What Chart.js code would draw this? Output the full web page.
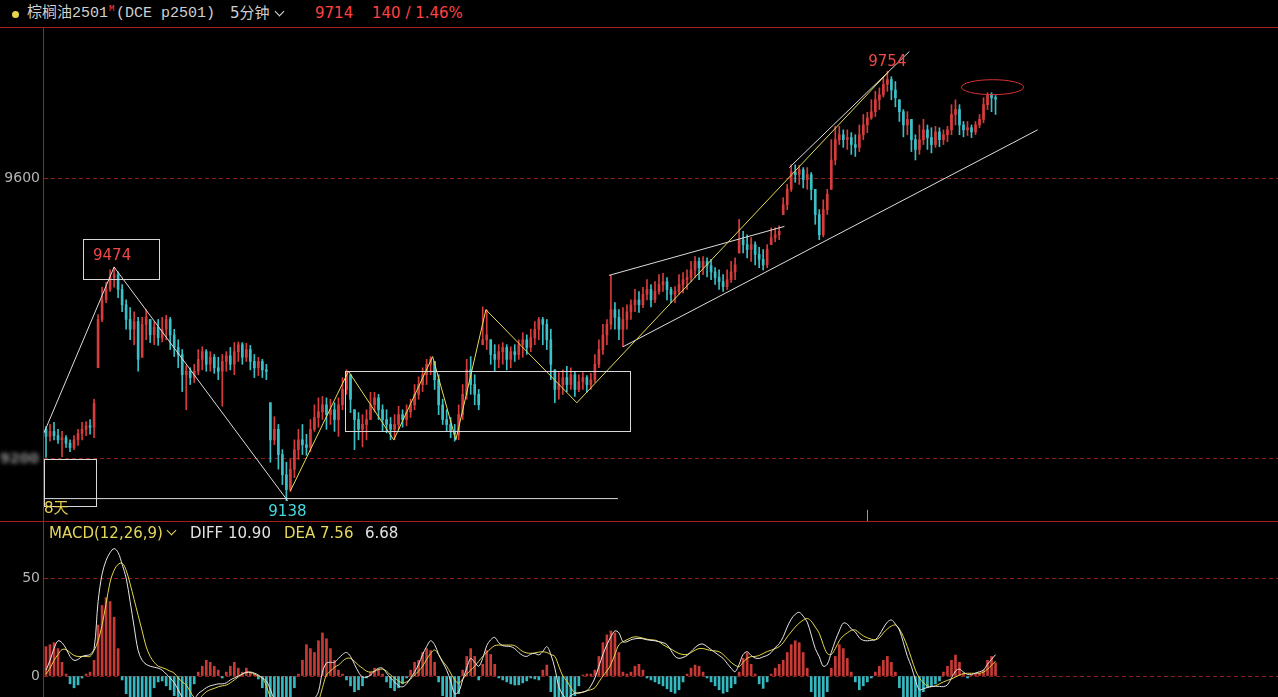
<!DOCTYPE html>
<html>
<head>
<meta charset="utf-8">
<title>棕榈油2501 5分钟</title>
<script src="https://cdn.jsdelivr.net/npm/chart.js@4.4.0/dist/chart.umd.min.js"></script>
<style>
  html, body { margin: 0; padding: 0; background: #000; }
  body { width: 1278px; height: 697px; position: relative; overflow: hidden; font-family: "DejaVu Sans", sans-serif; }
  canvas { position: absolute; left: 0; }
  #priceChart { top: 27px; }
  #macdChart { top: 521px; }
  .txt { position: absolute; white-space: nowrap; font-size: 15px; }
  .head { top: 0; line-height: 27px; }
  .mono { font-family: "Liberation Mono", "Noto Sans CJK SC", monospace; }
  .rule { position: absolute; background: #a61e1e; }
  .chev { position: absolute; width: 6px; height: 6px; border-right: 1.5px solid #ddd; border-bottom: 1.5px solid #ddd; transform: rotate(45deg); }
</style>
</head>
<body>
<canvas id="priceChart" width="1278" height="494"></canvas>
<canvas id="macdChart" width="1278" height="176"></canvas>

<!-- panel frame -->
<div class="rule" style="left:0; top:27px; width:1278px; height:1px;"></div>
<div class="rule" style="left:0; top:521px; width:1278px; height:1px;"></div>
<div class="rule" style="left:43px; top:27px; width:1px; height:670px;"></div>

<!-- header -->
<div style="position:absolute; left:12px; top:11px; width:7px; height:7px; border-radius:50%; background:#e6d44e;"></div>
<div class="txt head mono" style="left:27px; color:#cfcfcf;">棕榈油2501</div>
<div class="txt mono" style="left:109px; top:4px; font-size:9px; line-height:10px; color:#ff4a4a;">M</div>
<div class="txt head mono" style="left:116px; color:#cfcfcf;">(DCE p2501)</div>
<div class="txt head" style="left:230px; color:#cfcfcf; font-family:'DejaVu Sans','Noto Sans CJK SC';">5分钟</div>
<div class="chev" style="left:276px; top:8px;"></div>
<div class="txt head" style="left:315px; color:#ff4242;">9714</div>
<div class="txt head" style="left:372px; color:#ff4242;">140 / 1.46%</div>

<!-- MACD title row -->
<div class="txt" style="left:49px; top:521px; line-height:24px; color:#e6d75a;">MACD(12,26,9)</div>
<div class="chev" style="left:168px; top:527px; border-color:#e6d75a;"></div>
<div class="txt" style="left:190px; top:521px; line-height:24px; color:#e2e2e2;">DIFF 10.90</div>
<div class="txt" style="left:284px; top:521px; line-height:24px; color:#e6d75a;">DEA 7.56</div>
<div class="txt" style="left:365px; top:521px; line-height:24px; color:#e2e2e2;">6.68</div>

<script>
// Palm oil 2501, 5 minute bars

const closes = [
  9232, 9239, 9233, 9227, 9230, 9222, 9216, 9227, 9236, 9242,
  9247, 9245, 9279, 9399, 9427, 9442, 9459, 9463, 9442, 9420,
  9399, 9385, 9396, 9342, 9392, 9402, 9377, 9388, 9373, 9385,
  9399, 9377, 9359, 9349, 9320, 9325, 9316, 9325, 9342, 9353,
  9335, 9345, 9330, 9325, 9339, 9347, 9335, 9353, 9363, 9345,
  9356, 9339, 9330, 9339, 9327, 9325, 9227, 9242, 9206, 9177,
  9156, 9185, 9213, 9227, 9220, 9216, 9242, 9259, 9267, 9277,
  9263, 9270, 9256, 9277, 9299, 9320, 9285, 9256, 9242, 9249,
  9256, 9277, 9287, 9270, 9256, 9249, 9242, 9249, 9263, 9256,
  9267, 9277, 9292, 9306, 9320, 9335, 9342, 9313, 9277, 9256,
  9249, 9239, 9235, 9263, 9292, 9327, 9306, 9292, 9277, 9370,
  9377, 9349, 9342, 9353, 9359, 9342, 9353, 9349, 9363, 9370,
  9359, 9373, 9385, 9399, 9392, 9370, 9335, 9299, 9306, 9316,
  9306, 9320, 9299, 9310, 9316, 9306, 9313, 9335, 9356, 9377,
  9392, 9413, 9402, 9385, 9399, 9410, 9420, 9427, 9420, 9435,
  9442, 9427, 9439, 9449, 9453, 9442, 9435, 9439, 9449, 9456,
  9459, 9470, 9482, 9473, 9482, 9476, 9467, 9459, 9453, 9446,
  9456, 9467, 9477, 9513, 9506, 9499, 9506, 9492, 9485, 9477,
  9499, 9516, 9520, 9525, 9563, 9585, 9610, 9606, 9613, 9599,
  9606, 9585, 9549, 9520, 9556, 9578, 9627, 9656, 9663, 9656,
  9659, 9649, 9645, 9663, 9677, 9687, 9696, 9713, 9720, 9735,
  9742, 9727, 9716, 9696, 9677, 9685, 9656, 9642, 9656, 9670,
  9659, 9649, 9667, 9656, 9663, 9670, 9692, 9699, 9677, 9670,
  9673, 9667, 9677, 9685, 9706, 9720, 9716, 9714
];

const highs = [
  9246, 9249, 9252, 9242, 9239, 9233, 9227, 9233, 9242, 9252,
  9253, 9256, 9285, 9406, 9445, 9452, 9470, 9474, 9467, 9449,
  9427, 9416, 9410, 9402, 9402, 9413, 9399, 9396, 9399, 9402,
  9405, 9402, 9385, 9370, 9356, 9333, 9330, 9335, 9356, 9360,
  9356, 9353, 9349, 9345, 9349, 9353, 9359, 9366, 9367, 9366,
  9365, 9362, 9349, 9345, 9342, 9335, 9280, 9260, 9249, 9213,
  9195, 9199, 9227, 9242, 9249, 9235, 9256, 9277, 9287, 9289,
  9287, 9285, 9280, 9287, 9316, 9327, 9320, 9270, 9266, 9263,
  9270, 9295, 9295, 9292, 9277, 9270, 9259, 9263, 9275, 9270,
  9277, 9285, 9306, 9317, 9330, 9342, 9346, 9339, 9320, 9285,
  9270, 9259, 9249, 9277, 9306, 9342, 9346, 9320, 9299, 9417,
  9413, 9370, 9363, 9363, 9366, 9363, 9360, 9363, 9370, 9380,
  9377, 9385, 9396, 9402, 9402, 9399, 9385, 9327, 9323, 9327,
  9332, 9330, 9325, 9320, 9323, 9319, 9322, 9349, 9370, 9392,
  9399, 9462, 9423, 9413, 9416, 9420, 9427, 9442, 9439, 9445,
  9456, 9449, 9453, 9463, 9465, 9459, 9445, 9446, 9463, 9466,
  9470, 9482, 9489, 9487, 9489, 9487, 9485, 9473, 9470, 9463,
  9470, 9482, 9487, 9542, 9525, 9520, 9516, 9510, 9502, 9499,
  9506, 9530, 9530, 9533, 9573, 9592, 9620, 9620, 9619, 9616,
  9616, 9609, 9585, 9556, 9570, 9585, 9656, 9675, 9675, 9670,
  9670, 9666, 9663, 9677, 9692, 9695, 9713, 9725, 9730, 9745,
  9754, 9746, 9739, 9713, 9699, 9696, 9685, 9663, 9677, 9685,
  9677, 9673, 9675, 9673, 9670, 9675, 9706, 9713, 9706, 9682,
  9682, 9677, 9682, 9692, 9716, 9723, 9723, 9719
];

const lows = [
  9202, 9225, 9227, 9222, 9203, 9216, 9210, 9213, 9219, 9227,
  9233, 9235, 9230, 9330, 9396, 9423, 9439, 9445, 9430, 9410,
  9385, 9370, 9363, 9325, 9345, 9370, 9366, 9363, 9362, 9367,
  9370, 9356, 9346, 9330, 9296, 9270, 9306, 9309, 9320, 9327,
  9325, 9325, 9322, 9313, 9275, 9325, 9327, 9320, 9339, 9335,
  9339, 9327, 9316, 9319, 9316, 9313, 9195, 9220, 9185, 9163,
  9140, 9153, 9173, 9199, 9206, 9205, 9210, 9239, 9245, 9256,
  9242, 9249, 9239, 9232, 9270, 9292, 9266, 9213, 9227, 9217,
  9227, 9256, 9267, 9256, 9239, 9237, 9227, 9227, 9242, 9245,
  9247, 9259, 9270, 9285, 9296, 9306, 9320, 9299, 9263, 9249,
  9239, 9230, 9225, 9227, 9256, 9285, 9292, 9277, 9270, 9363,
  9356, 9335, 9325, 9330, 9335, 9327, 9330, 9339, 9342, 9345,
  9349, 9353, 9363, 9370, 9363, 9356, 9313, 9280, 9285, 9292,
  9296, 9299, 9289, 9296, 9299, 9295, 9299, 9309, 9330, 9349,
  9363, 9385, 9385, 9370, 9360, 9385, 9399, 9410, 9409, 9416,
  9427, 9417, 9423, 9435, 9439, 9427, 9423, 9423, 9435, 9437,
  9442, 9453, 9459, 9456, 9463, 9460, 9456, 9449, 9442, 9439,
  9442, 9452, 9456, 9494, 9494, 9487, 9482, 9477, 9473, 9470,
  9473, 9506, 9510, 9513, 9549, 9556, 9582, 9595, 9592, 9587,
  9585, 9570, 9535, 9513, 9517, 9549, 9585, 9620, 9649, 9645,
  9642, 9635, 9632, 9639, 9656, 9666, 9685, 9689, 9699, 9717,
  9725, 9713, 9703, 9682, 9660, 9663, 9639, 9627, 9635, 9649,
  9642, 9637, 9645, 9646, 9649, 9653, 9663, 9677, 9663, 9660,
  9662, 9659, 9663, 9673, 9680, 9699, 9696, 9692
];

// open of the very first bar; later opens follow the previous close
const firstOpen = 9242;

// MACD(12,26,9)
const diffValues = [
  3, 8, 14, 18, 17, 14, 10, 8, 8.5, 10,
  10.5, 11, 14, 38, 52, 59, 63, 65, 63, 57,
  50, 38, 25, 13, 8, 6, 5, 4.5, 4, 3,
  1, -1, -3.5, -7, -11, -14, -14, -12, -9, -7.5,
  -6, -5, -4.5, -4, -4, -3.5, -2, -1, 0, 1,
  1.8, 2, 1.5, 0.5, -1, -2.5, -7, -12, -16, -20,
  -24, -25, -24, -21, -18, -15, -13, -11.5, -8, 2,
  6.6, 7, 7, 9, 11, 12, 10, 6, 2, -0.5,
  -0.5, 0.5, 2.5, 4, 4, 1.5, -1, -3, -5, -5.5,
  -4, -1, 2, 6, 11, 15, 18, 16, 11, 7,
  3, -2.5, -9, -8, -2, 4, 9, 7, 5, 9,
  15.5, 18.5, 19.7, 17, 15.5, 15.2, 15, 14, 12, 10.5,
  10, 11.2, 11.5, 10.8, 12.5, 15, 11, 4, -5.4, -9.5,
  -11.5, -10, -8.8, -8.5, -8.2, -7.5, -5, -1, 5, 11,
  16, 20, 23, 22, 17.5, 17.5, 18.5, 19, 19.2, 19,
  18.5, 18.2, 18, 17.5, 17, 16, 13, 10, 9, 9.5,
  10.5, 12.5, 14.5, 16, 16.3, 15, 13.5, 12, 10.5, 9,
  6.5, 4, 2.2, 6, 11, 12.4, 10.5, 9.2, 9, 9.8,
  10.5, 12, 14.5, 16.5, 20, 25, 29, 31.5, 32.5, 30.5,
  27.5, 21, 14, 9.9, 5, 6, 12, 18, 23, 27,
  26.5, 24, 22.5, 19.5, 18.2, 18, 18.2, 18.5, 21, 24.5,
  27.5, 28.6, 26.5, 23.5, 17, 10, 4.8, -2, -7, -6.5,
  -5.8, -5.4, -5.2, -5.3, -5.4, -4.5, -1, 2.5, 3.5, 2,
  0.8, 0.8, 1.5, 2.2, 3, 6, 8.5, 10.9
];

const deaValues = [
  1, 4, 8, 11, 13.5, 13.5, 12, 10.5, 10, 10,
  10, 10, 13, 18, 26, 37, 48, 54, 57, 57.6,
  54, 47, 39, 31, 23, 15, 10, 7, 5, 4.3,
  3.5, 2.5, 1.5, -1, -3, -4.6, -8, -11, -12, -10,
  -8, -7, -6.3, -5.5, -5, -4.6, -3.5, -2, -0.5, 1,
  2, 1.8, 1, 0, -1, -5, -11, -14, -16, -18,
  -21, -22, -23, -23, -22.5, -21, -19, -17, -13, -6,
  0.5, 2.5, 4.5, 5.6, 7.5, 9, 9, 7.5, 5.5, 4,
  2.5, 2, 2.5, 3.3, 3.5, 2.5, 0.5, -1, -2.5, -3.5,
  -3, -1.5, 0.5, 2.5, 5, 8.5, 11.5, 13.3, 11, 7.5,
  5, 1.5, -2, -3.7, -1.5, 1, 3, 5, 7.5, 10,
  12, 14, 15.5, 15.8, 15.8, 15.8, 15.8, 15.5, 14, 12.5,
  11.8, 11.6, 11.8, 12.2, 12.4, 12, 11, 10, 5, 0,
  -2.5, -6, -8.5, -8.8, -8.2, -7.5, -7, -6, -3, 0,
  2.5, 6, 11, 16, 17.5, 18.5, 19.5, 20, 19.8, 19.3,
  18.8, 18.5, 18.3, 17.5, 16, 14.8, 13.8, 12.5, 11.5, 11,
  11, 12, 13.2, 14, 14, 13.5, 13, 12.8, 12.4, 11,
  9, 7, 5.5, 4.8, 7, 9, 9.9, 10, 10.5, 11.5,
  12.5, 13.2, 14, 15, 17, 20, 22.5, 25, 27, 28.5,
  29.4, 28, 25, 21.8, 16, 11.5, 11, 14, 18, 20.5,
  22, 23.3, 23.5, 22, 20.5, 19.5, 18.8, 18.5, 19.5, 22,
  24, 25.5, 26, 24, 20, 15, 9, 3, -1, -3.5,
  -5, -5.4, -5, -4, -3, -2.2, -1.5, -0.5, 0.5, 1.2,
  1.4, 1.4, 1.4, 1.4, 2, 3.5, 5.5, 7.56
];

const macdBars = [
  15, 16, 17, 14, 7, 1, -4, -6, -4.5, -1,
  1, 2, 8, 26, 36, 40, 38, 30, 14, -2,
  -9, -18, -22, -24, -22, -18, -12, -6, -3, -2.5,
  -5, -7, -10, -12, -16, -18, -13, -4, 2, 5,
  8, 7, 5, 3, -1, 2, 5, 7, 4, 2,
  4, 2, 1, -1.5, -6, -12, -18, -18, -16, -14,
  -14, -11, -6, 1, 8, 16, 14, 12, 18, 22,
  19, 14, 8, 3, 1, -2, -5, -8, -7, -5,
  -1, 2, 4, 3.5, 1, -3, -6, -7.5, -6, -4,
  -1, 3, 7, 8, 12, 14, 13, 7, -3, -10,
  -14, -16, -15, -9, 3, 10, 14, 10, -2, 6,
  13, 11, 6, -1, -2, -3, -4, -4.6, -4.5, -3.5,
  -2.5, -1, -1.5, -2, 3, 5.6, -8, -14, -18, -18,
  -17, -14, -10, -5, 0.5, 1, 1, 3, 10, 17,
  21, 23, 22, 12, 2, 1, 2, 5, 6, 3,
  -1, -2, -3, -4, -5, -6.5, -8, -8.8, -7, -3,
  1, 4, 5.6, 5, 2, -1, -3, -5, -7, -8.8,
  -8, -6, -4, 2, 9, 11.6, 6, 1, -4, -6.3,
  -3, 1, 4, 6, 8, 12, 16, 18, 17, 12,
  4, -8, -16, -20, -18, -8, 4, 10, 16, 14,
  9, 2, -3, -7, -5, -3, -1, 2, 5, 8,
  10, 7, 2, -6, -14, -18, -18, -14, -12, -8,
  -6, -5.4, -4, -2.5, 2, 5, 8, 10.7, 7, 1.5,
  -1, 0.5, 1, 1.5, 3, 8, 10, 6.68
];

// axis ticks
const priceTicks = [9200, 9600];
const macdTicks = [0, 50];

// bar slots across the panel (the right part stays empty)
const slotCount = 308;
const slotLabels = Array.from({ length: slotCount }, (_, i) => String(i + 1));

// drawings on the price panel, as [bar index, price]
const whiteLines = [
  [[-0.5, 9237], [17, 9474], [60.3, 9140]],
  [[-0.5, 9143], [142.75, 9143]],
  [[140.5, 9462], [184.3, 9532]],
  [[144, 9360], [247.5, 9670]],
  [[185.5, 9616], [215.5, 9782]]
];
const yellowLines = [
  [[61, 9154], [75.5, 9325], [86.8, 9227], [96.5, 9346], [102.3, 9227],
   [109.8, 9413], [132.5, 9280], [210.3, 9753]]
];
// [left index, top price, right index, bottom price]
const markBoxes = [
  [9.25, 9514, 28.25, 9457],
  [-0.5, 9200, 12.5, 9133],
  [74.75, 9325, 145.75, 9239]
];
// [center index, center price, index radius, price radius]
const markEllipse = [236.25, 9731, 7.75, 10.7];
const markTexts = [
  { text: '9474', at: [16.5, 9489], color: '#f04848', align: 'center' },
  { text: '9138', at: [60.25, 9124], color: '#48d8e0', align: 'center' },
  { text: '9754', at: [210, 9767], color: '#f04848', align: 'center' },
  { text: '8天', at: [-0.5, 9128], color: '#e6d24e', align: 'left' }
];
const dayMarkIndex = 205;

const UP = '#d63c3c';
const DOWN = '#3cc0c8';
const FLAT = '#b4b4b4';
const GRID = '#8c1e1e';

// opens follow the previous close, kept inside the bar's range
const opens = closes.map((c, i) => {
  const prev = i === 0 ? firstOpen : closes[i - 1];
  return Math.min(Math.max(prev, lows[i]), highs[i]);
});
const candleColors = closes.map((c, i) => c > opens[i] ? UP : (c < opens[i] ? DOWN : FLAT));

Chart.defaults.font.family = 'DejaVu Sans';

/**
 * Left value axis: fixed width, only the given ticks, dashed red grid
 */
function valueAxis(min, max, ticks, hidden) {
    return {
        position: 'left',
        min: min,
        max: max,
        afterBuildTicks: (axis) => { axis.ticks = ticks.map(v => ({ value: v })); },
        afterFit: (axis) => {
            axis.width = 44;
            axis.paddingTop = 0;
            axis.paddingBottom = 0;
        },
        ticks: {
            color: '#b4b4b4',
            font: { size: 14 },
            padding: 4,
            callback: (v) => (hidden.includes(v) ? '' : String(v))
        },
        grid: { color: GRID, drawTicks: false, lineWidth: 1 },
        border: { display: false, dash: [4, 3] }
    };
}

const slotAxis = {
    type: 'category',
    display: false,
    offset: true,
    grid: { display: false }
};

/**
 * Draws the trend lines, boxes and notes on top of the candles
 */
const drawingsPlugin = {
    id: 'drawings',
    afterDatasetsDraw(chart) {
        const { ctx, scales } = chart;
        const px = (i) => scales.x.getPixelForValue(i);
        const py = (v) => scales.y.getPixelForValue(v);

        ctx.save();
        ctx.lineWidth = 1;

        const polyline = (pts, color) => {
            ctx.strokeStyle = color;
            ctx.beginPath();
            pts.forEach((p, k) => {
                if (k === 0) ctx.moveTo(px(p[0]), py(p[1]));
                else ctx.lineTo(px(p[0]), py(p[1]));
            });
            ctx.stroke();
        };
        whiteLines.forEach(l => polyline(l, '#dcdcdc'));
        yellowLines.forEach(l => polyline(l, '#e4dc5a'));

        ctx.strokeStyle = '#d8d8d8';
        markBoxes.forEach(b => {
            const x0 = Math.round(px(b[0])) + 0.5;
            const y0 = Math.round(py(b[1])) + 0.5;
            const x1 = Math.round(px(b[2])) + 0.5;
            const y1 = Math.round(py(b[3])) + 0.5;
            ctx.strokeRect(x0, y0, x1 - x0, y1 - y0);
        });

        const [ei, ev, er, evr] = markEllipse;
        ctx.strokeStyle = '#d83232';
        ctx.beginPath();
        ctx.ellipse(px(ei), py(ev), px(ei + er) - px(ei), py(ev) - py(ev + evr), 0, 0, Math.PI * 2);
        ctx.stroke();

        // small day separator tick at the bottom edge
        ctx.strokeStyle = '#9a9a9a';
        const dx = Math.round(px(dayMarkIndex)) + 0.5;
        ctx.beginPath();
        ctx.moveTo(dx, py(9127));
        ctx.lineTo(dx, chart.chartArea.bottom);
        ctx.stroke();

        ctx.font = '15px "DejaVu Sans", "Noto Sans CJK SC"';
        ctx.textBaseline = 'middle';
        markTexts.forEach(t => {
            ctx.fillStyle = t.color;
            ctx.textAlign = t.align;
            ctx.fillText(t.text, px(t.at[0]), py(t.at[1]));
        });

        // the 9200 label is smudged in the original
        ctx.filter = 'blur(2.2px)';
        ctx.fillStyle = '#8c8c8c';
        ctx.font = 'bold 14px "DejaVu Sans"';
        ctx.textAlign = 'right';
        ctx.fillText('9200', 39, py(9200) + 1);
        ctx.restore();
    }
};

function buildPriceChart() {
    const wickData = lows.map((l, i) => [l, highs[i]]);
    const bodyData = closes.map((c, i) => [opens[i], c]);

    return new Chart(document.getElementById('priceChart'), {
        type: 'bar',
        data: {
            labels: slotLabels,
            datasets: [
                {
                    label: 'body',
                    data: bodyData,
                    backgroundColor: candleColors,
                    barThickness: 2,
                    minBarLength: 1,
                    grouped: false,
                    order: 1
                },
                {
                    label: 'wick',
                    data: wickData,
                    backgroundColor: candleColors,
                    barThickness: 1,
                    grouped: false,
                    order: 2
                }
            ]
        },
        options: {
            responsive: false,
            animation: false,
            devicePixelRatio: 1,
            layout: { padding: 0 },
            plugins: { legend: { display: false }, tooltip: { enabled: false } },
            scales: {
                x: slotAxis,
                y: valueAxis(9111, 9817, priceTicks, [9200])
            }
        },
        plugins: [drawingsPlugin]
    });
}

function buildMacdChart() {
    const barColors = macdBars.map(v => (v >= 0 ? '#c83a36' : '#36b8c0'));

    return new Chart(document.getElementById('macdChart'), {
        type: 'bar',
        data: {
            labels: slotLabels,
            datasets: [
                {
                    type: 'line',
                    label: 'DIFF',
                    data: diffValues,
                    borderColor: '#e4e4e4',
                    borderWidth: 1,
                    pointRadius: 0,
                    tension: 0.35,
                    order: 1
                },
                {
                    type: 'line',
                    label: 'DEA',
                    data: deaValues,
                    borderColor: '#e2d446',
                    borderWidth: 1,
                    pointRadius: 0,
                    tension: 0.35,
                    order: 2
                },
                {
                    label: 'MACD',
                    data: macdBars,
                    backgroundColor: barColors,
                    barThickness: 2,
                    order: 3
                }
            ]
        },
        options: {
            responsive: false,
            animation: false,
            devicePixelRatio: 1,
            layout: { padding: 0 },
            plugins: { legend: { display: false }, tooltip: { enabled: false } },
            scales: {
                x: slotAxis,
                y: valueAxis(-10.7, 79.1, macdTicks, [])
            }
        }
    });
}

buildPriceChart();
buildMacdChart();
</script>
</body>
</html>
